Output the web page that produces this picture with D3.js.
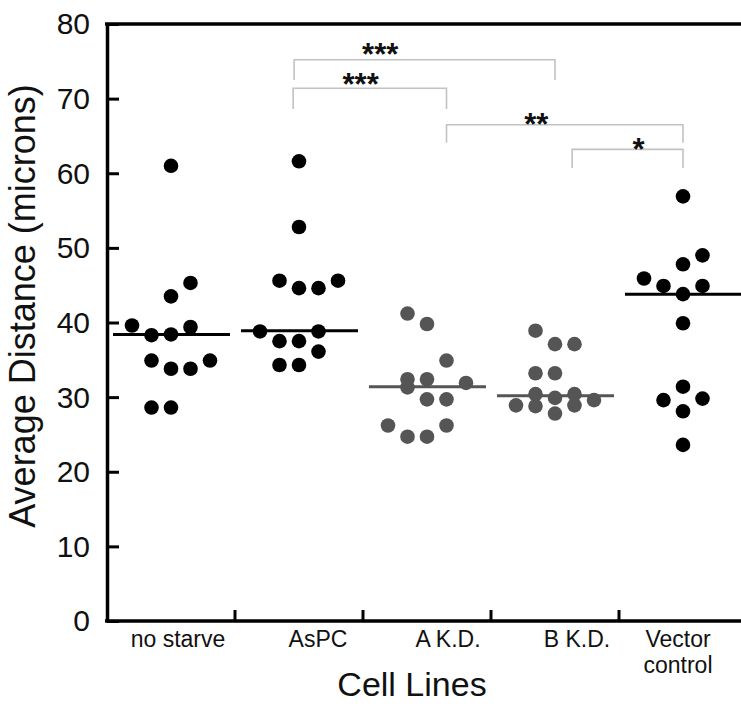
<!DOCTYPE html>
<html>
<head>
<meta charset="utf-8">
<script src="https://cdn.jsdelivr.net/npm/d3@7"></script>
<style>
  body { margin: 0; background: #fff; }
  svg { display: block; }
  text { font-family: "Liberation Sans", Arial, Helvetica, sans-serif; fill: #111; }
</style>
</head>
<body>
<svg id="chart" width="741" height="709"></svg>
<script>
// ---------------- DATA ----------------
const categories = ["no starve", "AsPC", "A K.D.", "B K.D.", "Vector control"];
const categoryShade = ["black", "black", "gray", "gray", "black"];

// Average distance values (microns) per cell line, with the column each dot sits in
const noStarveValues  = [61.0, 45.3, 43.5, 39.6, 39.4, 38.3, 38.4, 34.9, 33.8, 33.8, 34.9, 28.6, 28.6];
const noStarveColumns = [0, 1, 0, -2, 1, -1, 0, -1, 0, 1, 2, -1, 0];

const aspcValues  = [61.6, 52.8, 45.6, 44.6, 44.6, 45.6, 38.8, 38.8, 37.5, 37.5, 36.1, 34.3, 34.3];
const aspcColumns = [0, 0, -1, 0, 1, 2, -2, 1, -1, 0, 1, -1, 0];

const aKdValues  = [41.2, 39.8, 34.9, 32.4, 32.4, 31.9, 31.3, 29.7, 29.7, 26.2, 26.2, 24.7, 24.7];
const aKdColumns = [-1, 0, 1, -1, 0, 2, -1, 0, 1, -2, 1, -1, 0];

const bKdValues  = [38.9, 37.1, 37.1, 33.2, 33.2, 30.4, 29.9, 30.4, 28.9, 28.8, 28.9, 29.6, 27.8];
const bKdColumns = [-1, 0, 1, -1, 0, -1, 0, 1, -2, -1, 1, 2, 0];

const vectorValues  = [56.9, 49.0, 47.8, 45.9, 44.9, 44.9, 43.8, 39.9, 31.4, 29.6, 29.8, 28.1, 23.6];
const vectorColumns = [0, 1, 0, -2, -1, 1, 0, 0, 0, -1, 1, 0, 0];

const meanValues = [38.4, 38.9, 31.4, 30.2, 43.8];

const yTickValues = [0, 10, 20, 30, 40, 50, 60, 70, 80];

// Significance comparisons
const compFrom   = ["AsPC", "AsPC", "A K.D.", "B K.D."];
const compTo     = ["B K.D.", "A K.D.", "Vector control", "Vector control"];
const compLabels = ["***", "***", "**", "*"];

const yAxisTitle = "Average Distance (microns)";
const xAxisTitle = "Cell Lines";

// ---------------- LAYOUT / STYLE ----------------
const groups = [
  { values: noStarveValues, cols: noStarveColumns },
  { values: aspcValues, cols: aspcColumns },
  { values: aKdValues, cols: aKdColumns },
  { values: bKdValues, cols: bKdColumns },
  { values: vectorValues, cols: vectorColumns }
];
const shadeColor = { black: "#000000", gray: "#555555" };
const labelShift = [7, 19, 21, 22, -5];
// bracket geometry: [fromColumnOffset, toColumnOffset, topValue, leftLegValue, rightLegValue, labelFraction, labelValue]
const bracketLayout = [
  [-0.25, 0,   75.2, 72.5, 72.5, 0.33, 76.9],
  [-0.3,  1,   71.4, 68.6, 68.6, 0.44, 72.9],
  [1,     0,   66.5, 64.1, 64.1, 0.38, 67.6],
  [0.88,  0,   63.2, 60.7, 60.7, 0.60, 64.2]
];

const svg = d3.select("#chart");

const x = d3.scaleBand().domain(categories).range([107, 747]).paddingInner(0).paddingOuter(0);
const y = d3.scaleLinear().domain([0, 80]).range([621, 24]);
const jitter = d3.scaleLinear().domain([-1, 1]).range([-19.5, 19.5]);
const cx = (cat, col) => x(cat) + x.bandwidth() / 2 + jitter(col);

// ---- brackets ----
const br = svg.append("g");
compFrom.forEach((f, i) => {
  const L = bracketLayout[i];
  const x1 = cx(f, L[0]), x2 = cx(compTo[i], L[1]);
  br.append("path")
    .attr("d", `M${x1},${y(L[3])}V${y(L[2])}H${x2}V${y(L[4])}`)
    .attr("fill", "none")
    .attr("stroke", "#c2c2c2")
    .attr("stroke-width", 1.6);
  br.append("text")
    .attr("x", x1 + (x2 - x1) * L[5])
    .attr("y", y(L[6]) + 18)
    .attr("text-anchor", "middle")
    .attr("font-size", 31)
    .attr("font-weight", "bold")
    .attr("fill", "#222")
    .text(compLabels[i]);
});

// ---- dots ----
groups.forEach((g, i) => {
  const cat = categories[i];
  const col = shadeColor[categoryShade[i]];
  svg.append("g").selectAll("circle")
    .data(g.values.map((v, k) => ({ v, c: g.cols[k] })))
    .join("circle")
    .attr("cx", d => cx(cat, d.c))
    .attr("cy", d => y(d.v))
    .attr("r", 7.3)
    .attr("fill", col);
  svg.append("line")
    .attr("x1", x(cat) + 6)
    .attr("x2", x(cat) + x.bandwidth() - 5)
    .attr("y1", y(meanValues[i]))
    .attr("y2", y(meanValues[i]))
    .attr("stroke", col)
    .attr("stroke-width", 3);
});

// ---- y axis ----
const yAxis = d3.axisLeft(y).tickValues(yTickValues).tickSize(-12).tickSizeOuter(0).tickPadding(17);
const yg = svg.append("g").attr("transform", "translate(107,0)").call(yAxis);
yg.select(".domain").attr("stroke", "#000").attr("stroke-width", 3.5);
yg.selectAll(".tick line").attr("stroke", "#000").attr("stroke-width", 3);
yg.selectAll(".tick text")
  .attr("font-size", 30)
  .attr("font-family", "'Liberation Sans', Arial, sans-serif")
  .attr("fill", "#111")
  .attr("dy", "0.33em");

// top border
svg.append("line")
  .attr("x1", 105).attr("x2", 741)
  .attr("y1", y(80)).attr("y2", y(80))
  .attr("stroke", "#000").attr("stroke-width", 3.5);

// ---- x axis ----
const xg = svg.append("g");
xg.append("line")
  .attr("x1", 105).attr("x2", 741)
  .attr("y1", y(0)).attr("y2", y(0))
  .attr("stroke", "#000").attr("stroke-width", 3.5);
xg.selectAll(".xtick")
  .data(categories.slice(1))
  .join("line")
  .attr("x1", d => x(d)).attr("x2", d => x(d))
  .attr("y1", y(0)).attr("y2", y(0) - 11)
  .attr("stroke", "#000").attr("stroke-width", 3);

categories.forEach((c, i) => {
  const t = xg.append("text")
    .attr("x", x(c) + x.bandwidth() / 2 + labelShift[i])
    .attr("y", 647)
    .attr("text-anchor", "middle")
    .attr("font-size", 23);
  const words = c === "Vector control" ? ["Vector", "control"] : [c];
  words.forEach((w, k) => {
    t.append("tspan")
      .attr("x", x(c) + x.bandwidth() / 2 + labelShift[i])
      .attr("dy", k === 0 ? 0 : 26)
      .text(w);
  });
});

// ---- titles ----
svg.append("text")
  .attr("transform", "translate(35,306) rotate(-90)")
  .attr("text-anchor", "middle")
  .attr("font-size", 36)
  .text(yAxisTitle);

svg.append("text")
  .attr("x", 412)
  .attr("y", 696)
  .attr("text-anchor", "middle")
  .attr("font-size", 34)
  .text(xAxisTitle);
</script>
</body>
</html>
